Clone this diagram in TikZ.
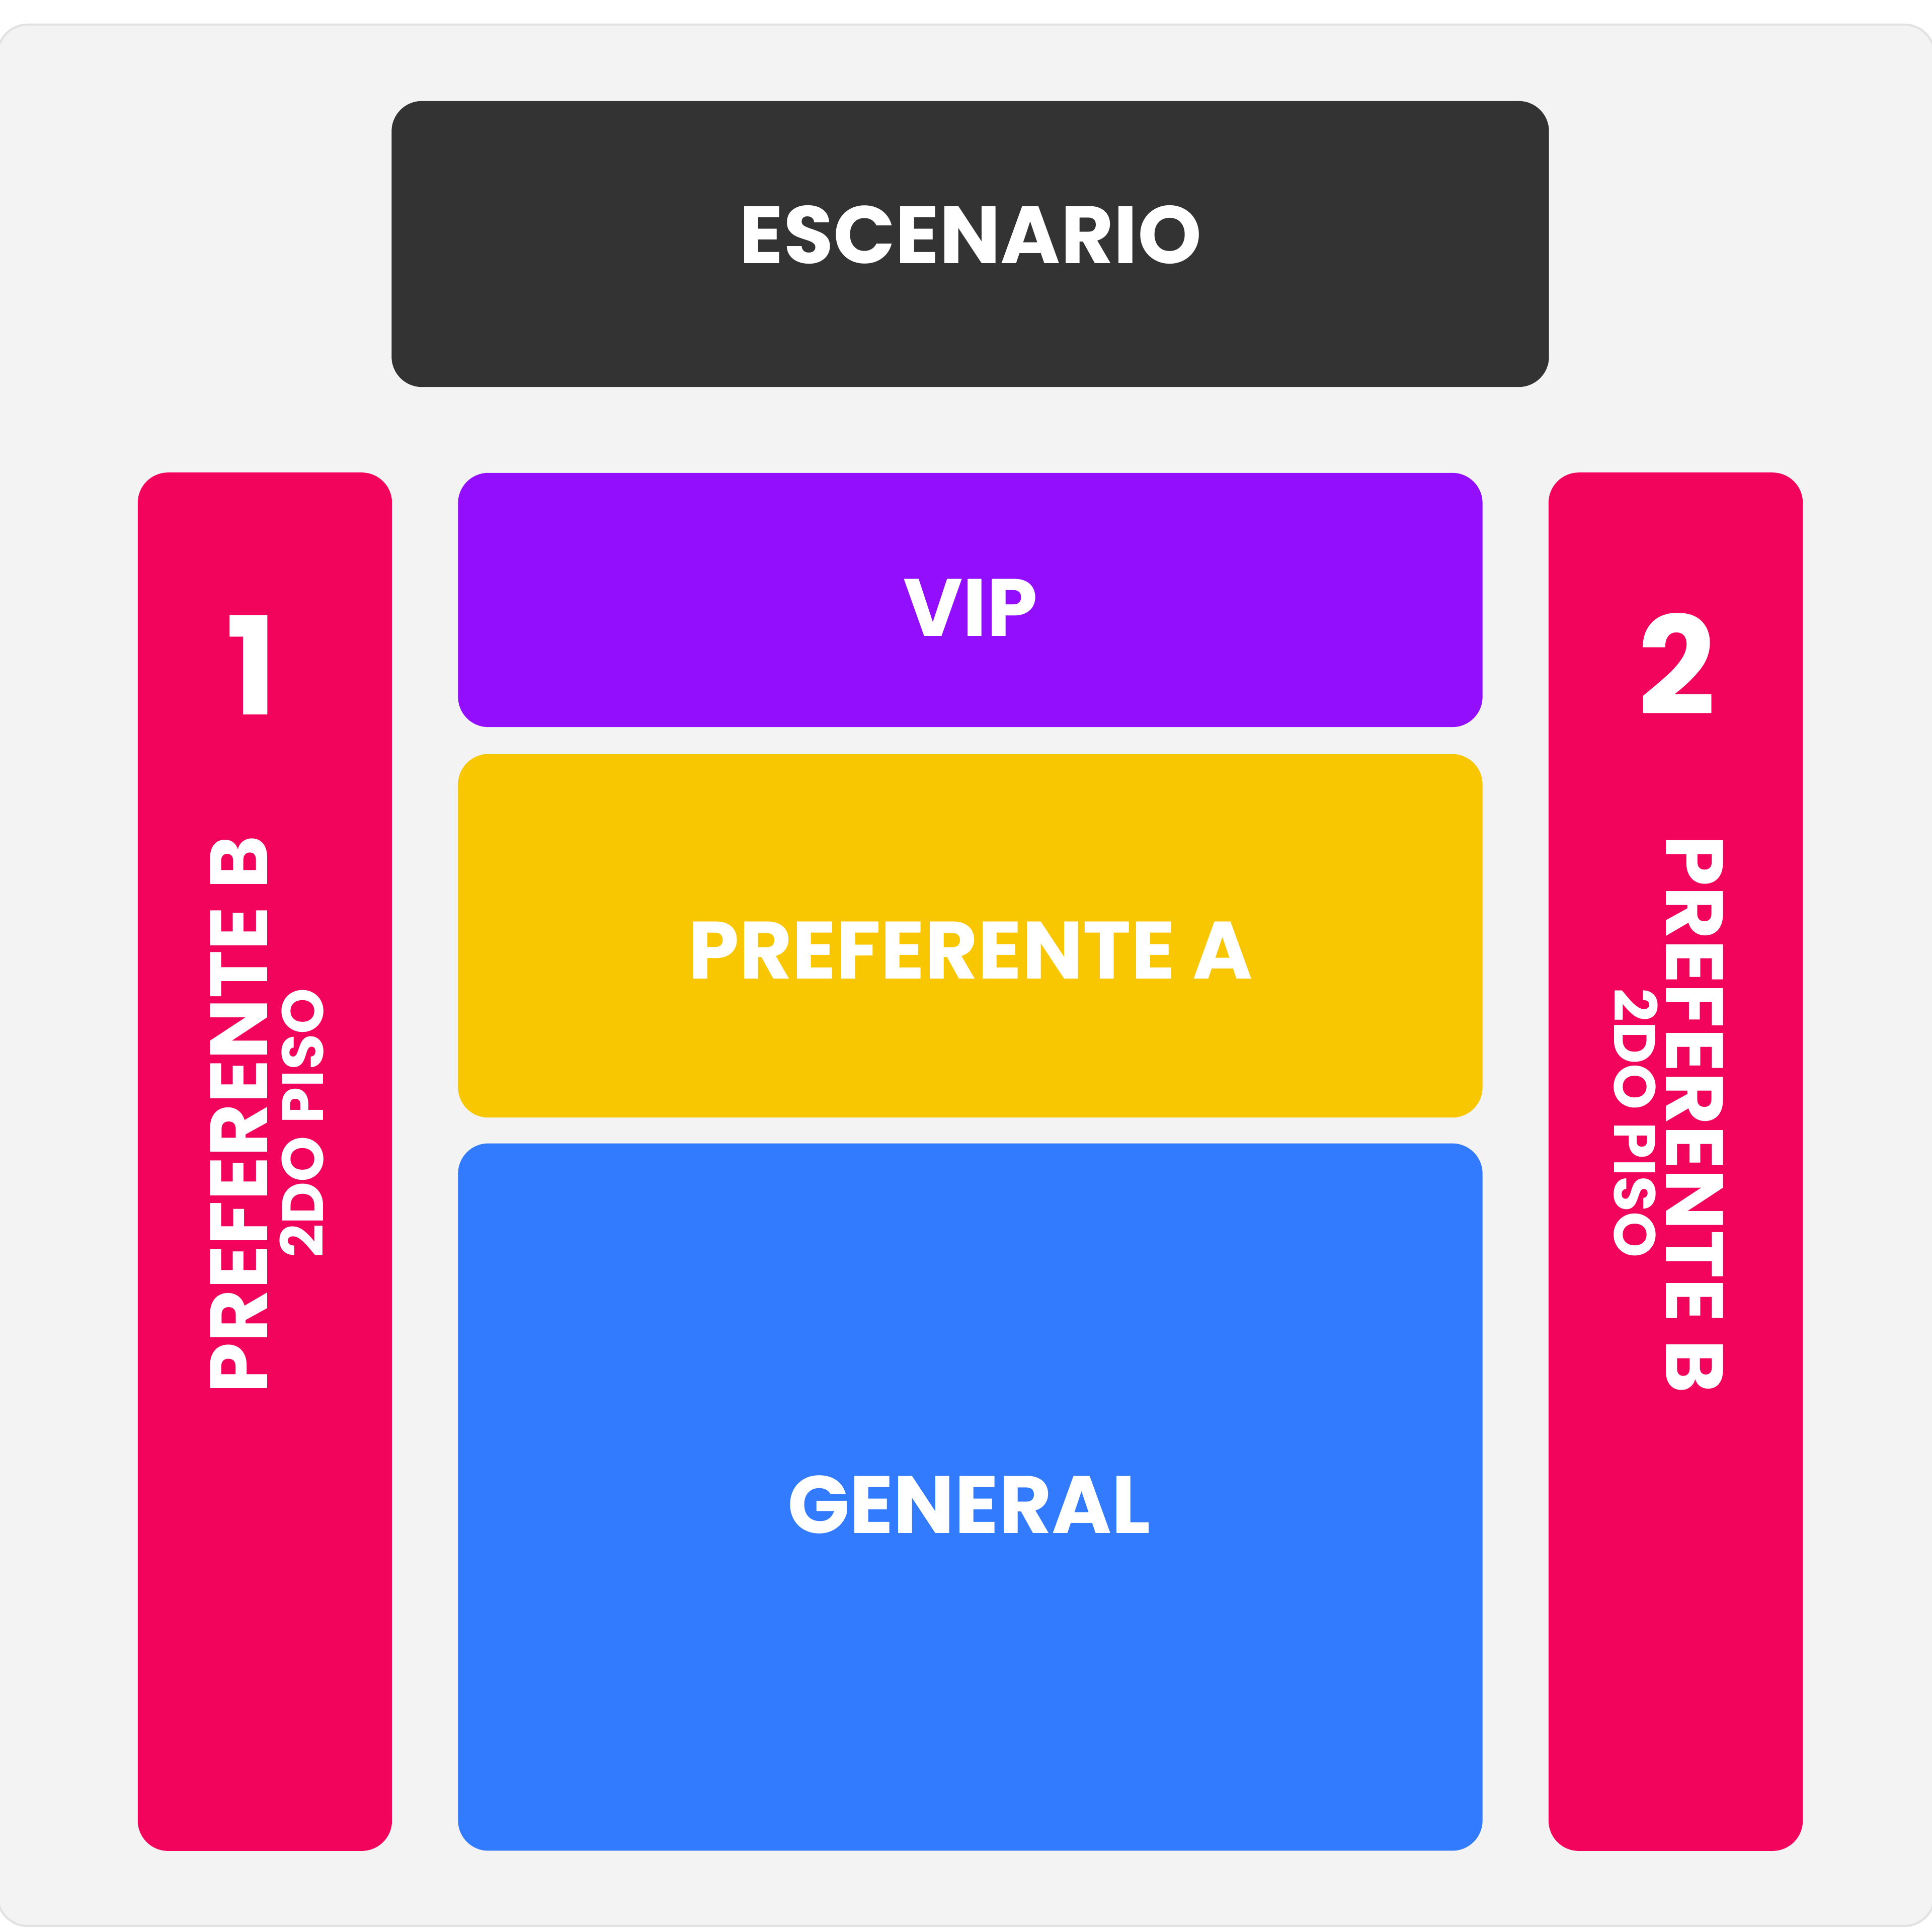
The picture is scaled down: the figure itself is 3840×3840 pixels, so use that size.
\documentclass[tikz,border=0pt]{standalone}
\usepackage{fontspec}
\setmainfont{Poppins}
\definecolor{bgc}{HTML}{F3F3F3}
\definecolor{bgline}{HTML}{E2E2E2}
\definecolor{stagec}{HTML}{333333}
\definecolor{pinkc}{HTML}{F2045C}
\definecolor{vipc}{HTML}{940EFE}
\definecolor{prefac}{HTML}{F8C701}
\definecolor{genc}{HTML}{327AFE}
\begin{document}
\begin{tikzpicture}[x=0.01cm,y=-0.01cm,
  zone/.style={rounded corners=0.6cm, draw=none, inner sep=0pt, outer sep=0pt},
  lbl/.style={text=white, anchor=base, inner sep=0pt, font=\bfseries\fontsize{46}{50}\selectfont},
  bignum/.style={text=white, anchor=base, inner sep=0pt, font=\bfseries\fontsize{77}{80}\selectfont},
  sublbl/.style={text=white, anchor=base, inner sep=0pt, font=\bfseries\fontsize{33}{36}\selectfont}]
\useasboundingbox (0,0) rectangle (3840,3840);
\draw[draw=bgline, fill=bgc, line width=1.2pt, rounded corners=0.6cm] (-5,49) rectangle (3845,3828);
% zones
\node[zone, fill=stagec, minimum width=22.99cm, minimum height=5.68cm] (stage) at (1928.5,485) {};
\node[zone, fill=pinkc, minimum width=5.05cm, minimum height=27.38cm] (leftb) at (526.5,2309) {};
\node[zone, fill=pinkc, minimum width=5.05cm, minimum height=27.38cm] (rightb) at (3330.5,2309) {};
\node[zone, fill=vipc, minimum width=20.35cm, minimum height=5.05cm] (vip) at (1928.5,1192.5) {};
\node[zone, fill=prefac, minimum width=20.35cm, minimum height=7.22cm] (prefa) at (1928.5,1860) {};
\node[zone, fill=genc, minimum width=20.35cm, minimum height=14.05cm] (general) at (1928.5,2975.5) {};
% labels
\node[lbl] (tstage) at (1929,524) {ESCENARIO};
\node[lbl] (tvip) at (1929,1264) {VIP};
\node[lbl] (tprefa) at (1929,1945) {PREFERENTE A};
\node[lbl] (tgen) at (1926,3047) {GENERAL};
\node[bignum] (tone) at (500,1420) {1};
\node[bignum] (ttwo) at (3333,1420) {2};
\node[lbl, rotate=90] (tlpb) at (531,2215) {PREFERENTE B};
\node[sublbl, rotate=90] (tlpiso) at (642,2232) {2DO PISO};
\node[lbl, rotate=-90] (trpb) at (3311,2215) {PREFERENTE B};
\node[sublbl, rotate=-90] (trpiso) at (3208,2232) {2DO PISO};
\end{tikzpicture}
\end{document}
